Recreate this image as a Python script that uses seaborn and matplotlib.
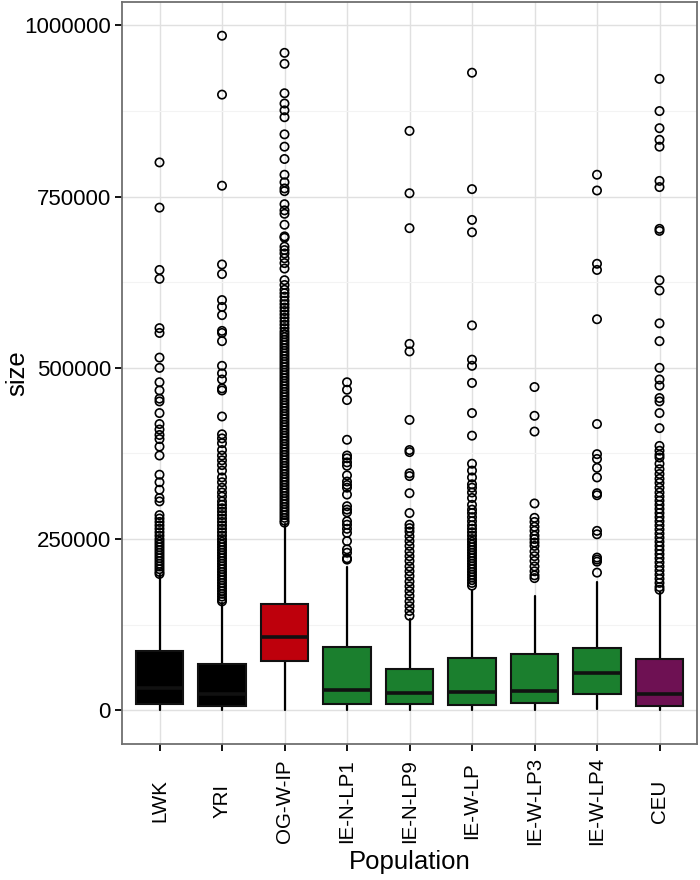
import numpy as np
import pandas as pd
import matplotlib
matplotlib.use("Agg")
import matplotlib.pyplot as plt
import seaborn as sns

# ---------------- data ----------------
pops = ["LWK", "YRI", "OG-W-IP", "IE-N-LP1", "IE-N-LP9",
        "IE-W-LP", "IE-W-LP3", "IE-W-LP4", "CEU"]
q1 = [9800, 6800, 72400, 9200, 9200, 7700, 10200, 23300, 6300]
med = [32000, 24300, 107400, 29600, 25800, 26700, 28700, 53900, 23800]
q3 = [86400, 67500, 154500, 92300, 60800, 76300, 82100, 90800, 74300]
whislo = [600, 400, 500, 700, 600, 500, 800, 1200, 400]
whishi = [197000, 156000, 272000, 209000, 134000, 176000, 166600, 187000, 172000]
fills = ["#000000", "#000000", "#BE000C", "#1B7F2E", "#1B7F2E",
         "#1B7F2E", "#1B7F2E", "#1B7F2E", "#6E1153"]

# outliers, in thousands
out_LWK = [800, 734, 643, 630, 558, 551, 515, 500, 479, 467, 455, 451, 434, 418,
           410, 402, 396, 385, 372, 344, 333, 322, 310, 305, 285, 280, 275, 270,
           265, 260, 255, 250, 246, 242, 238, 234, 230, 226, 222, 218, 214, 210,
           206, 202, 199]
out_YRI = [985, 899, 766, 651, 637, 599, 589, 577, 554, 551, 539, 503, 492, 483,
           470, 467, 429, 403, 397, 390, 380, 372, 365, 358, 350, 340, 333, 325,
           318, 312, 305, 300, 295, 290, 285, 280, 275, 270, 265, 260, 255, 250,
           246, 242, 238, 234, 230, 226, 222, 218, 214, 210, 206, 202, 198, 194,
           190, 186, 182, 178, 174, 170, 166, 162, 159]
out_OG = [960, 944, 901, 886, 876, 866, 841, 823, 805, 782, 771, 762, 758, 739,
          730, 725, 709, 692, 690, 677, 672, 667, 660, 653, 645, 628, 621, 614,
          609, 604, 598, 593, 588, 583, 578, 573, 568, 563, 558, 553, 549, 545,
          541, 537, 533, 529, 525, 521, 517, 513, 509, 505, 501, 497, 493, 489,
          485, 481, 477, 473, 469, 465, 461, 457, 453, 449, 445, 441, 437, 433,
          429, 425, 421, 417, 413, 409, 405, 401, 397, 393, 389, 385, 381, 377,
          373, 369, 365, 361, 357, 353, 349, 345, 341, 337, 333, 329, 325, 321,
          317, 313, 309, 305, 301, 297, 293, 289, 285, 281, 277, 274]
out_NLP1 = [479, 468, 453, 395, 372, 368, 362, 357, 343, 334, 329, 325, 315, 298,
            293, 289, 276, 271, 265, 259, 247, 235, 230, 222, 220]
out_NLP9 = [846, 755, 704, 535, 524, 424, 380, 377, 346, 342, 317, 288, 271, 266,
            261, 254, 247, 240, 232, 225, 218, 210, 203, 196, 188, 181, 174, 167,
            159, 152, 145, 138]
out_WLP = [931, 761, 716, 698, 562, 512, 503, 478, 434, 401, 360, 350, 340, 330,
           325, 318, 310, 300, 293, 288, 282, 276, 270, 265, 260, 255, 250, 246,
           242, 238, 234, 230, 226, 222, 218, 214, 210, 206, 202, 198, 194, 190,
           186, 182]
out_WLP3 = [472, 430, 407, 302, 281, 275, 268, 262, 255, 250, 245, 240, 232, 225,
            218, 210, 203, 197, 193]
out_WLP4 = [782, 759, 652, 643, 571, 418, 374, 367, 354, 340, 317, 314, 262, 257,
            223, 220, 217, 201]
out_CEU = [922, 875, 850, 833, 823, 773, 764, 703, 700, 628, 613, 565, 539, 500,
           483, 474, 456, 451, 434, 412, 386, 379, 373, 369, 360, 352, 345, 338,
           332, 325, 318, 312, 306, 300, 294, 288, 282, 276, 270, 264, 258, 252,
           246, 240, 234, 228, 222, 216, 210, 204, 198, 192, 186, 180, 176]
outliers = [out_LWK, out_YRI, out_OG, out_NLP1, out_NLP9,
            out_WLP, out_WLP3, out_WLP4, out_CEU]

yticks = [0, 250000, 500000, 750000, 1000000]
yminor = [125000, 375000, 625000, 875000]

# ---------------- style ----------------
sns.set_theme(style="white")
plt.rcParams["font.family"] = ["Liberation Sans", "DejaVu Sans"]

fig = plt.figure(figsize=(7.0, 8.8), dpi=100)
ax = fig.add_axes([122 / 700, 1 - 744 / 880, (697 - 122) / 700, (744 - 2) / 880])

# outliers via seaborn stripplot
rows = []
for p, vals in zip(pops, outliers):
    for v in vals:
        rows.append({"Population": p, "size": v * 1000})
df_out = pd.DataFrame(rows)
sns.stripplot(data=df_out, x="Population", y="size", order=pops, jitter=False,
              color="black", size=6.0, linewidth=1.2, ax=ax, zorder=4)
for coll in ax.collections:
    coll.set_facecolor("none")
    coll.set_edgecolor("black")
    coll.set_linewidth(1.2)

# boxes
stats = []
for i, p in enumerate(pops):
    stats.append(dict(label=p, q1=q1[i], med=med[i], q3=q3[i],
                      whislo=whislo[i], whishi=whishi[i], fliers=[]))
bp = ax.bxp(stats, positions=list(range(len(pops))), widths=0.76,
            patch_artist=True, showcaps=False, showfliers=False,
            manage_ticks=False,
            boxprops=dict(edgecolor="#111111", linewidth=1.5),
            medianprops=dict(color="#111111", linewidth=2.6, solid_capstyle="butt"),
            whiskerprops=dict(color="black", linewidth=1.6))
for patch, c in zip(bp["boxes"], fills):
    patch.set_facecolor(c)
    patch.set_zorder(3)
for ln in bp["medians"]:
    ln.set_zorder(3.5)
for ln in bp["whiskers"]:
    ln.set_zorder(2.5)

ax.set_xlim(-0.6, len(pops) - 0.4)
ax.set_ylim(-49250, 1034250)
ax.set_xticks(range(len(pops)))
ax.set_xticklabels(pops, rotation=90, va="center", ha="center")
ax.set_yticks(yticks)
ax.set_yticklabels([str(v) for v in yticks])
ax.set_yticks(yminor, minor=True)

ax.set_axisbelow(True)
ax.grid(True, which="major", color="#E0E0E0", linewidth=1.0)
ax.grid(True, which="minor", axis="y", color="#F3F3F3", linewidth=0.8)
ax.set_facecolor("white")
for s in ax.spines.values():
    s.set_color("#6F6F6F")
    s.set_linewidth(1.3)

ax.tick_params(axis="y", which="major", length=5, width=1.3, color="black",
               labelsize=16, labelcolor="black", pad=3, left=True)
ax.tick_params(axis="y", which="minor", length=0)
ax.tick_params(axis="x", which="major", length=5, width=1.3, color="black",
               labelsize=14.8, labelcolor="black", pad=36, bottom=True)

ax.set_xlabel("Population", fontsize=18.5, color="black", va="center")
ax.set_ylabel("size", fontsize=18.5, color="black", va="center")
ax.xaxis.set_label_coords(0.5, (744 - 862) / 742)
ax.yaxis.set_label_coords((17 - 122) / 575, 0.5)

fig.savefig("out.png", dpi=100)
